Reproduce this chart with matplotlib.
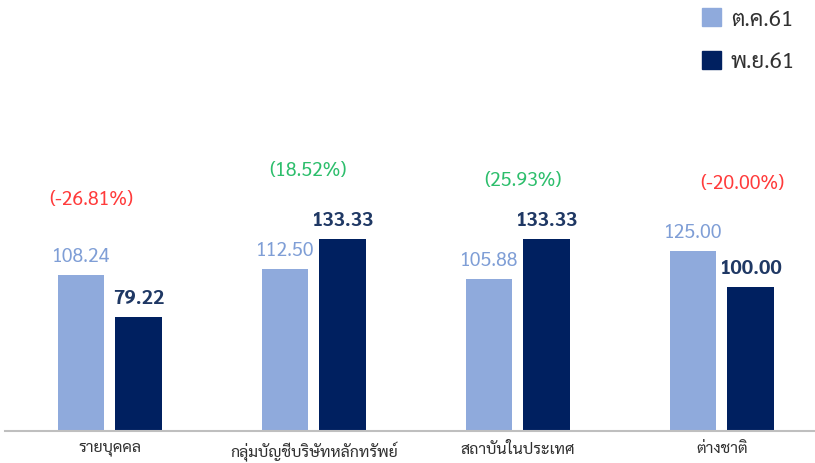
import matplotlib
matplotlib.use('Agg')
import matplotlib.pyplot as plt
from matplotlib.patches import Patch
import numpy as np

plt.rcParams['font.family'] = ['Sarabun', 'DejaVu Sans']

# ข้อมูล
categories = ['รายบุคคล', 'กลุ่มบัญชีบริษัทหลักทรัพย์', 'สถาบันในประเทศ', 'ต่างชาติ']
oct61 = [108.24, 112.50, 105.88, 125.00]
nov61 = [79.22, 133.33, 133.33, 100.00]
pct_change = ['(-26.81%)', '(18.52%)', '(25.93%)', '(-20.00%)']
series_names = ['ต.ค.61', 'พ.ย.61']

# ตำแหน่งข้อความเปอร์เซ็นต์ (ระยะเลื่อนแกน x, ค่าแกน y)
pct_dx = [-0.09, -0.03, 0.025, 0.10]
pct_y = [161, 181, 174, 172]

c_light = '#8FAADC'
c_dark = '#002060'

fig = plt.figure(figsize=(8.15, 4.64), dpi=100)
ax = fig.add_axes([0.006, 0.069, 0.994, 0.931])

x = np.arange(len(categories))
w = 0.23
off = 0.142
b1 = ax.bar(x - off, oct61, w, color=c_light)
b2 = ax.bar(x + off, nov61, w, color=c_dark)

for rect, v in zip(b1, oct61):
    ax.annotate(f'{v:.2f}', (rect.get_x() + rect.get_width() / 2, v),
                xytext=(0, 7), textcoords='offset points',
                ha='center', va='bottom', fontsize=14, color='#7F9ED6')
for rect, v in zip(b2, nov61):
    ax.annotate(f'{v:.2f}', (rect.get_x() + rect.get_width() / 2, v),
                xytext=(0, 7), textcoords='offset points',
                ha='center', va='bottom', fontsize=14.5, color='#1F3864',
                fontweight='bold')

for i, p in enumerate(pct_change):
    col = '#FF3B3B' if p.startswith('(-') else '#2DBE6C'
    ax.text(x[i] + pct_dx[i], pct_y[i], p, ha='center', va='center',
            fontsize=14, color=col)

ax.set_xlim(-0.515, 3.456)
ax.set_ylim(0, 300)
ax.set_xticks(x)
ax.set_xticklabels(categories, fontsize=11.5, color='#303030')
ax.tick_params(axis='x', length=0, pad=7)
ax.set_yticks([])
for s in ['top', 'right', 'left']:
    ax.spines[s].set_visible(False)
ax.spines['bottom'].set_color('#BFBFBF')
ax.spines['bottom'].set_linewidth(1.5)

handles = [Patch(color=c_light), Patch(color=c_dark)]
ax.legend(handles, series_names, loc='upper right', frameon=False,
          fontsize=16, handlelength=0.85, handleheight=0.85,
          handletextpad=0.45, labelspacing=0.95,
          bbox_to_anchor=(1.0, 1.025), labelcolor='#303030')

fig.savefig('out.png')
